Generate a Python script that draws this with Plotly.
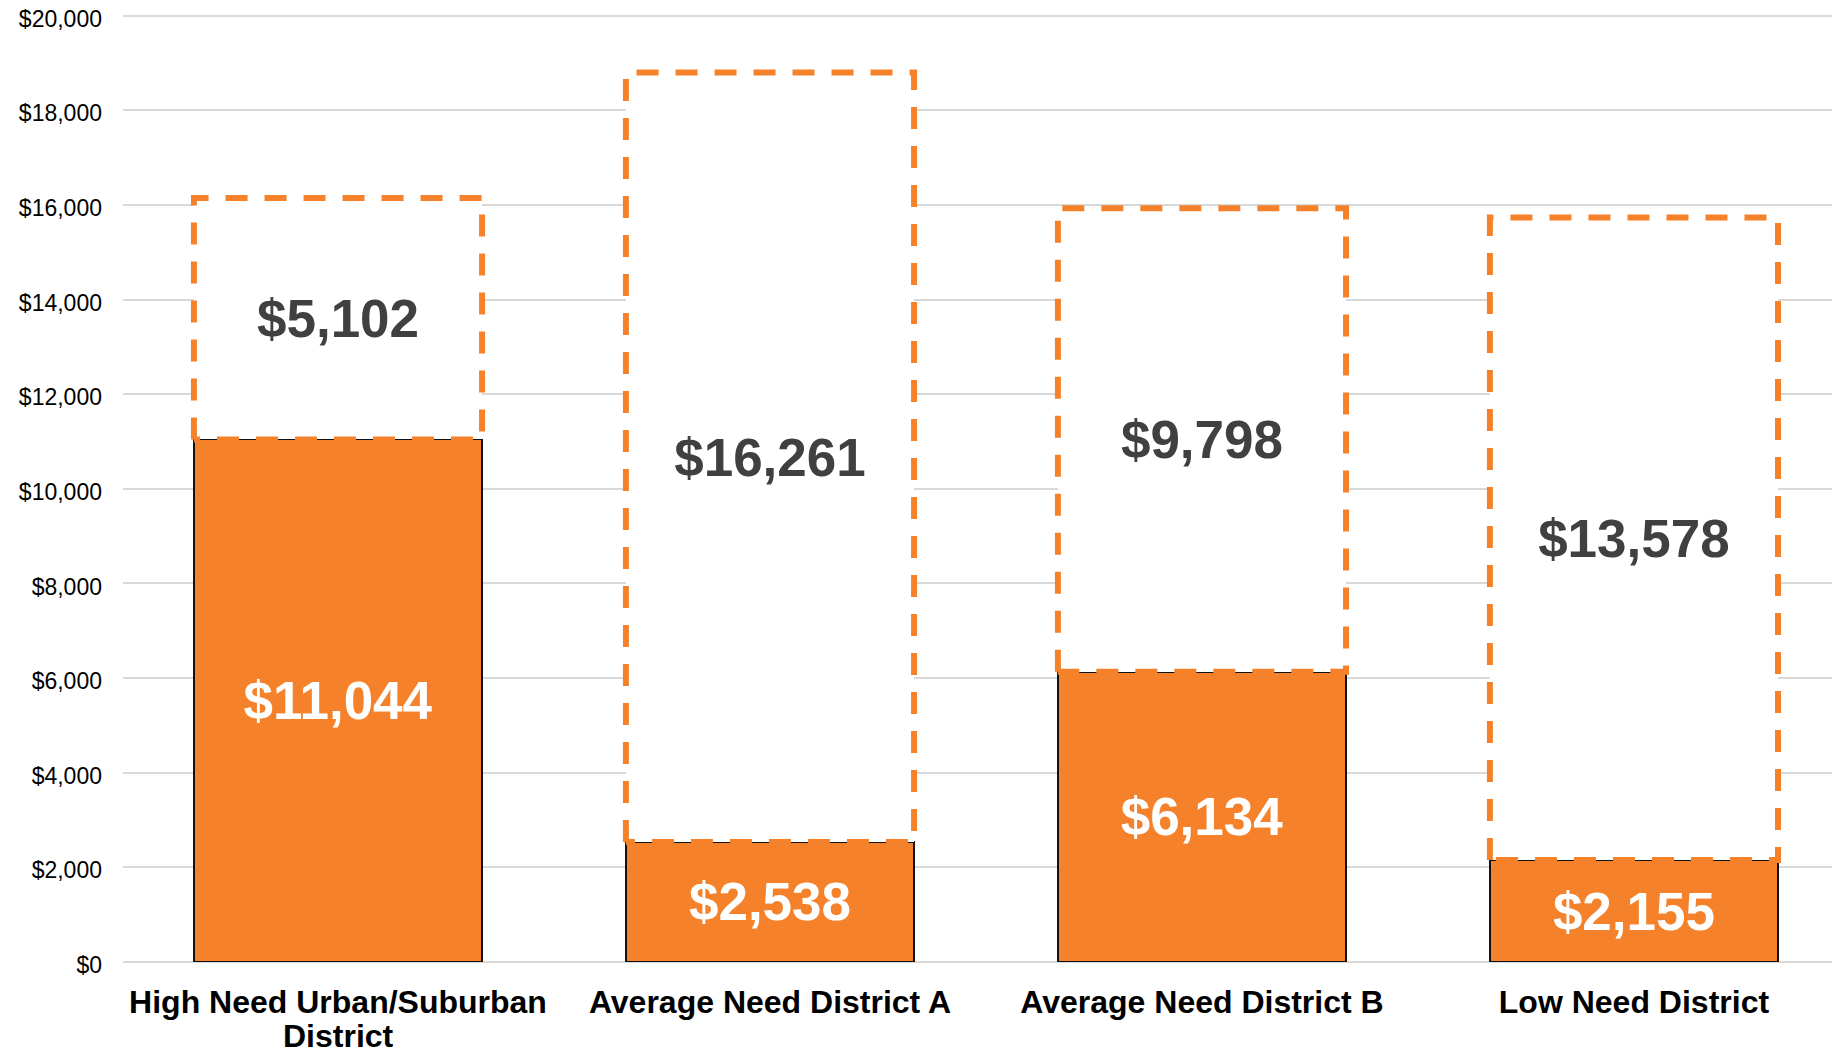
"""Per-pupil funding gap by district type - stacked bars with dashed outline."""
import plotly.graph_objects as go

FONT = "Arial, Liberation Sans, sans-serif"
ORANGE = "#F5822A"
DARK_TEXT = "#404040"
GRID = "#D9D9D9"

districts = [
    "High Need Urban/Suburban<br>District",
    "Average Need District A",
    "Average Need District B",
    "Low Need District",
]
funded = [11044, 2538, 6134, 2155]
gap = [5102, 16261, 9798, 13578]

positions = list(range(len(districts)))
BAR_W = 0.667

fig = go.Figure()

fig.add_trace(
    go.Bar(
        x=positions,
        y=funded,
        width=BAR_W,
        marker=dict(color=ORANGE, line=dict(color="#111111", width=1.5)),
        texttemplate="$%{y:,.0f}",
        textposition="inside",
        insidetextanchor="middle",
        textangle=0,
        textfont=dict(family=FONT, size=53, color="white", weight="bold"),
        hoverinfo="skip",
        showlegend=False,
    )
)
fig.add_trace(
    go.Bar(
        x=positions,
        y=gap,
        width=BAR_W,
        marker=dict(color="white", line=dict(width=0)),
        texttemplate="$%{y:,.0f}",
        textposition="inside",
        insidetextanchor="middle",
        textangle=0,
        textfont=dict(family=FONT, size=53, color=DARK_TEXT, weight="bold"),
        hoverinfo="skip",
        showlegend=False,
    )
)

# dashed outline around the unfunded part of each bar
for i, base, extra in zip(positions, funded, gap):
    left, right = i - BAR_W / 2, i + BAR_W / 2
    top = base + extra
    fig.add_trace(
        go.Scatter(
            x=[left, left, right, right, left],
            y=[base, top, top, base, base],
            mode="lines",
            line=dict(color=ORANGE, width=6, dash="22px,17px"),
            hoverinfo="skip",
            showlegend=False,
        )
    )

# tick labels get the first line; wrapped second lines go in as annotations
# so the line spacing can be tighter than plotly's default
first_lines = [d.split("<br>")[0] for d in districts]
for i, d in zip(positions, districts):
    for extra_line in d.split("<br>")[1:]:
        fig.add_annotation(
            x=i,
            y=-0.078,
            xref="x",
            yref="paper",
            yanchor="middle",
            text=f"<b>{extra_line}</b>",
            showarrow=False,
            font=dict(family=FONT, size=32, color="black"),
        )

# page body adds an 8px margin, so the figure is a bit smaller than the window.
# y range runs a little past 20k so the top gridline isn't clipped at the edge.
fig.update_layout(
    width=1832,
    height=1046,
    template="plotly_white",
    barmode="stack",
    plot_bgcolor="white",
    paper_bgcolor="white",
    margin=dict(l=115, r=0, t=3.27, b=92),
    font=dict(family=FONT, color="black"),
    xaxis=dict(
        tickmode="array",
        tickvals=positions,
        ticktext=[f"<b>{t}</b>" for t in first_lines],
        tickfont=dict(family=FONT, size=32, color="black"),
        range=[-0.4977, 3.477],
        showgrid=False,
        zeroline=False,
        showline=False,
        ticks="",
        ticklabelstandoff=18,
        automargin=False,
    ),
    yaxis=dict(
        range=[0, 20100],
        tickmode="linear",
        tick0=0,
        dtick=2000,
        tickprefix="$",
        tickformat=",",
        tickfont=dict(family=FONT, size=23, color="black"),
        ticklabeloverflow="allow",
        ticklabelshift=3,
        gridcolor=GRID,
        gridwidth=2,
        zeroline=True,
        zerolinecolor=GRID,
        zerolinewidth=2,
        showline=False,
        ticks="",
        ticklabelstandoff=20,
        automargin=False,
    ),
)

fig.write_html("out.html")
